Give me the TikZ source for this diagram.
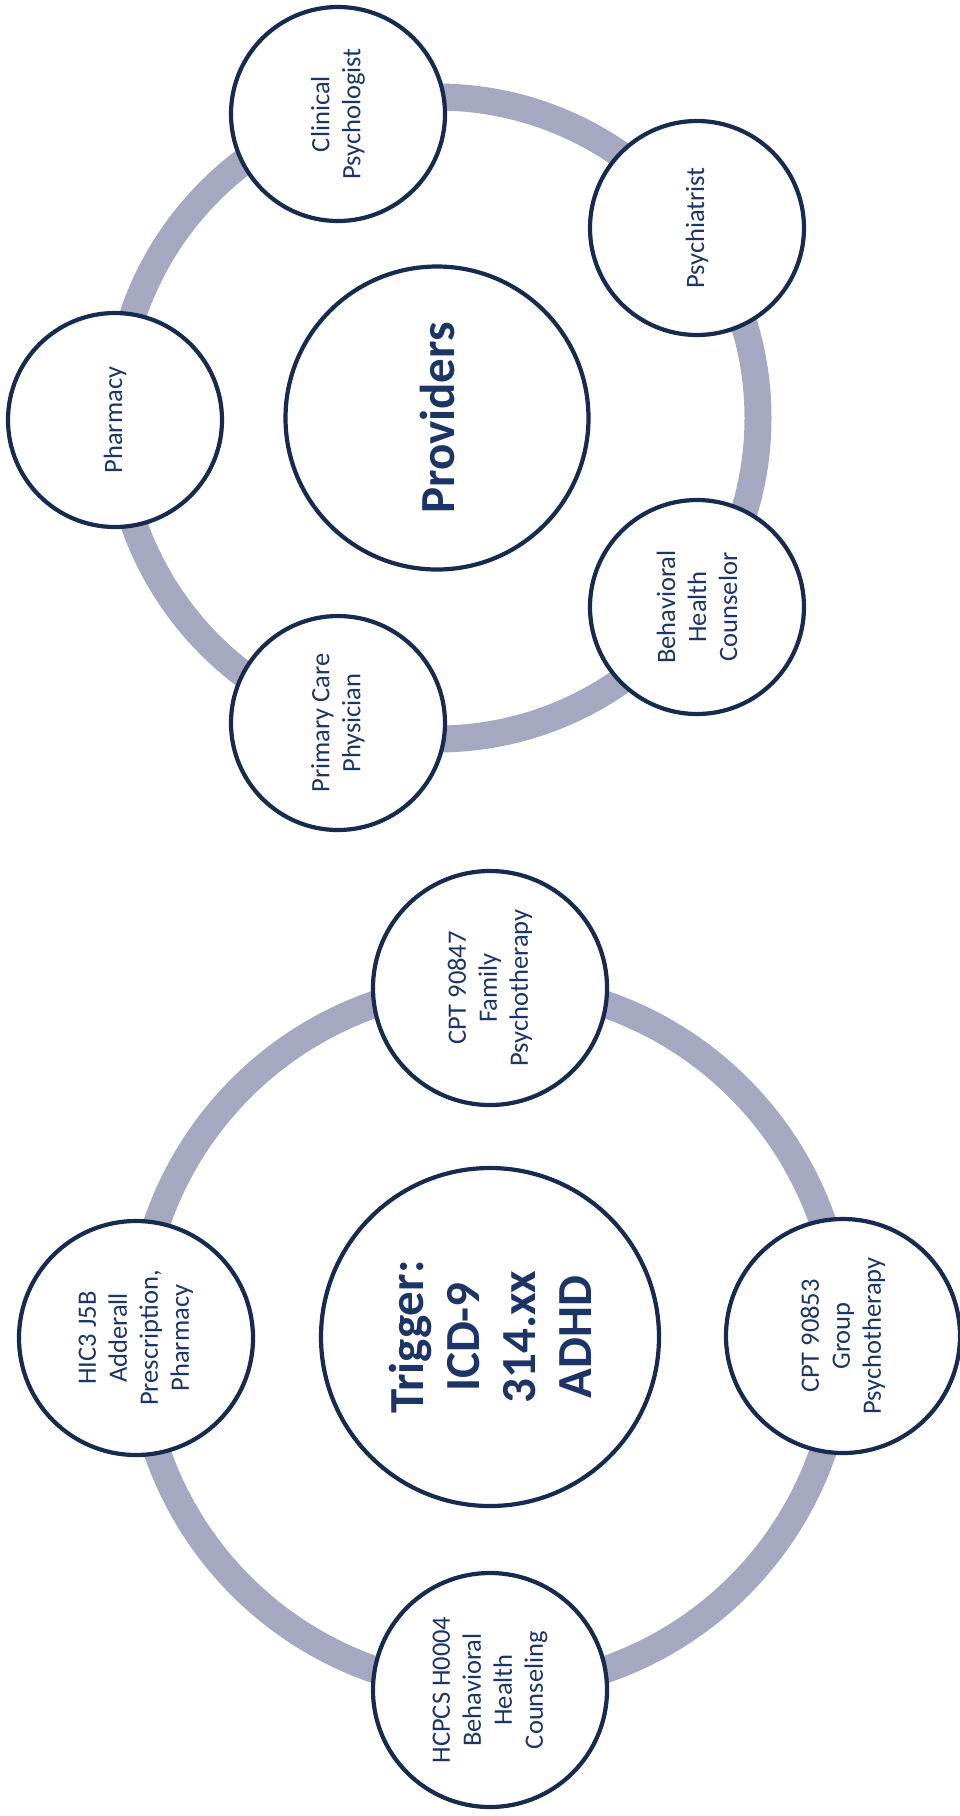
\documentclass[tikz,border=0pt]{standalone}
\usepackage{fontspec}
\setmainfont{Carlito}
\definecolor{navy}{HTML}{172A50}
\definecolor{txtnavy}{HTML}{1C3566}
\definecolor{ringgray}{HTML}{A6A8C2}
\tikzset{
  ring/.style={draw=ringgray, line width=27pt},
  sat/.style={circle, draw=navy, line width=4.2pt, fill=white, minimum size=214pt, inner sep=0pt,
     text=txtnavy, align=center, rotate=90, font=\fontsize{26.5}{31}\selectfont},
  bigsat/.style={sat, minimum size=234pt},
  hub/.style={circle, draw=navy, line width=4.2pt, fill=white, inner sep=0pt,
     text=txtnavy, align=center, rotate=90, font=\bfseries\fontsize{49}{56}\selectfont},
}
\begin{document}
\begin{tikzpicture}[x=1pt,y=-1pt]
\useasboundingbox (0,0) rectangle (960,1816);
\fill[white] (0,0) rectangle (960,1816);
% ---- Providers ----
\coordinate (pc) at (437,418);
\draw[ring] (pc) circle[radius=321];
\node[hub, minimum size=303pt] (prov) at (pc) {Providers};
\node[sat] (pharm) at (115,420) {Pharmacy};
\node[sat] (clin) at (338,114) {Clinical\\Psychologist};
\node[sat] (psy) at (697,228) {Psychiatrist};
\node[sat] (bhc) at (697,607) {Behavioral\\Health\\Counselor};
\node[sat] (pcp) at (338,723) {Primary Care\\Physician};
% ---- Trigger ----
\coordinate (tc) at (490,1337);
\draw[ring] (tc) circle[radius=352];
\node[hub, minimum size=338pt] (trig) at (tc) {Trigger:\\ICD-9\\314.xx\\ADHD};
\node[bigsat] (fam) at (490,988) {CPT 90847\\Family\\Psychotherapy};
\node[bigsat] (hic) at (136,1338) {HIC3 J5B\\Adderall\\Prescription,\\Pharmacy};
\node[bigsat] (grp) at (843,1336) {CPT 90853\\Group\\Psychotherapy};
\node[bigsat] (hcpcs) at (490,1690) {HCPCS H0004\\Behavioral\\Health\\Counseling};
\end{tikzpicture}
\end{document}
